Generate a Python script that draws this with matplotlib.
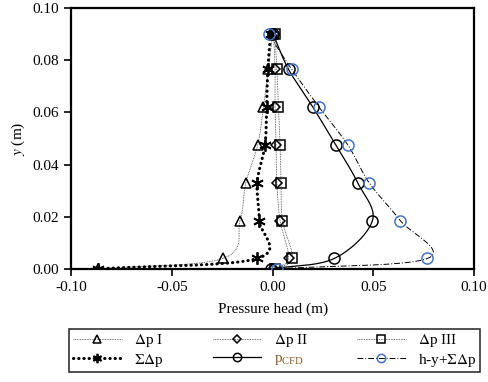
import numpy as np
import matplotlib
matplotlib.use("Agg")
import matplotlib.pyplot as plt
from matplotlib.lines import Line2D

plt.rcParams['font.family'] = ['Liberation Serif', 'DejaVu Serif']
plt.rcParams['mathtext.fontset'] = 'stix'

# elevation of the measuring points (m)
y = [0.0, 0.004, 0.0185, 0.033, 0.0475, 0.062, 0.0765, 0.09]

# pressure head components (m)
dp1 = [-0.087, -0.0248, -0.0162, -0.0133, -0.0074, -0.0046, -0.0021, 0.0]
dp2 = [0.0, 0.0079, 0.0037, 0.0021, 0.0017, 0.0012, 0.0012, 0.0005]
dp3 = [0.001, 0.0098, 0.0049, 0.0042, 0.0037, 0.0029, 0.0021, 0.0012]
sum_dp = [-0.087, -0.0076, -0.0066, -0.0077, -0.0038, -0.0030, -0.0024, -0.001]
p_cfd = [-0.001, 0.0306, 0.0496, 0.0423, 0.0314, 0.0200, 0.0079, 0.0003]
h_y_sum = [0.002, 0.0769, 0.0635, 0.0480, 0.0374, 0.0231, 0.0095, -0.002]


def smooth(xs, ys, n=20):
    # Catmull-Rom curve through the points, like a spreadsheet "smoothed line"
    p = np.column_stack([xs, ys])
    sx = 1 / 0.2      # work in axis-normalised units
    sy = 1 / 0.1
    p = p * [sx, sy]
    ext = np.vstack([2 * p[0] - p[1], p, 2 * p[-1] - p[-2]])
    out = []
    t = np.linspace(0, 1, n, endpoint=False)[:, None]
    for i in range(1, len(ext) - 2):
        p0, p1, p2, p3 = ext[i - 1], ext[i], ext[i + 1], ext[i + 2]
        seg = 0.5 * ((2 * p1) + (-p0 + p2) * t + (2 * p0 - 5 * p1 + 4 * p2 - p3) * t ** 2
                     + (-p0 + 3 * p1 - 3 * p2 + p3) * t ** 3)
        out.append(seg)
    out.append(p[-1][None, :])
    out = np.vstack(out)
    return out[:, 0] / sx, out[:, 1] / sy


fig = plt.figure(figsize=(4.89, 3.82), dpi=100)
ax = fig.add_axes([0.146, 0.296, 0.823, 0.683])

thin_dot = dict(color='#444444', lw=0.6, ls=(0, (1, 1)))
series = [
    (dp1, thin_dot, dict(marker='^', ms=7), 'black', r'$\Delta$p I'),
    (dp2, thin_dot, dict(marker='D', ms=5.5), 'black', r'$\Delta$p II'),
    (dp3, thin_dot, dict(marker='s', ms=7), 'black', r'$\Delta$p III'),
    (sum_dp, dict(color='black', lw=2.2, ls=(0, (0.1, 1.6)), dash_capstyle='round'),
     dict(marker=(6, 2, 0), ms=9), 'black', r'$\Sigma\Delta$p'),
    (p_cfd, dict(color='black', lw=0.9, ls='-'), dict(marker='o', ms=8), 'black', 'p'),
    (h_y_sum, dict(color='black', lw=0.7, ls=(0, (6, 2, 1, 2))), dict(marker='o', ms=8), '#4472C4',
     r'h-y+$\Sigma\Delta$p'),
]

handles = []
for xs, lstyle, mstyle, mcol, lab in series:
    cx, cy = smooth(xs, y)
    ax.plot(cx, cy, zorder=2, **lstyle)
    mw = 1.3 if mstyle['marker'] == (6, 2, 0) else 1.1
    ax.plot(xs, y, ls='none', mfc='none', mec=mcol, mew=mw, zorder=3, **mstyle)
    handles.append(Line2D([], [], mfc='none', mec=mcol, mew=mw,
                          marker=mstyle['marker'], ms=mstyle['ms'] * 0.75, **lstyle))

ax.set_xlim(-0.10, 0.10)
ax.set_ylim(0.0, 0.10)
ax.set_xticks([-0.10, -0.05, 0.00, 0.05, 0.10])
ax.set_yticks(np.arange(0, 0.101, 0.02))
ax.xaxis.set_major_formatter(plt.FormatStrFormatter('%.2f'))
ax.yaxis.set_major_formatter(plt.FormatStrFormatter('%.2f'))
ax.tick_params(direction='out', length=5, width=1.2, labelsize=11, pad=4)
for s in ax.spines.values():
    s.set_linewidth(1.6)

ax.set_xlabel('Pressure head (m)', fontsize=11, labelpad=6)
ax.set_ylabel(r'$\it{y}$ (m)', fontsize=11, labelpad=4)

# legend fills column by column, so interleave to get rows of three
labels = [s[4] for s in series]
order = [0, 3, 1, 4, 2, 5]
leg = fig.legend([handles[i] for i in order], [labels[i] for i in order],
                 ncol=3, loc='center', mode='expand',
                 bbox_to_anchor=(69 / 489, 0.0825 - 0.05, 411 / 489, 0.1),
                 bbox_transform=fig.transFigure,
                 fontsize=11, frameon=True, fancybox=False, edgecolor='black',
                 handlelength=3.2, handletextpad=0.8,
                 borderpad=0.25, labelspacing=0.15, borderaxespad=0)
leg.get_frame().set_linewidth(1.2)

# the CFD entry carries a small-caps subscript
txt = leg.get_texts()[3]
txt.set_text(r'p$_{\mathregular{CFD}}$')
txt.set_color('#8a5a2a')

fig.savefig('out.png', dpi=100)
